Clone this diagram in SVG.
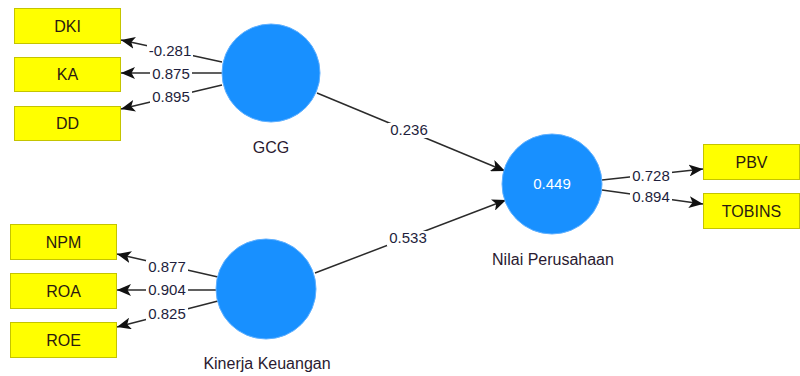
<svg xmlns="http://www.w3.org/2000/svg" width="800" height="376" viewBox="0 0 800 376">
  <style>
    .ind rect { fill: #ffff00; stroke: #c4c400; stroke-width: 1; }
    .ind text { font-family: "Liberation Sans", Arial, sans-serif; font-size: 16px; fill: #2a1a10; text-anchor: middle; }
    .lv circle { fill: #1890ff; stroke: #5fb0ff; stroke-width: 1; }
    .lv text { font-family: "Liberation Sans", Arial, sans-serif; font-size: 16px; fill: #2a1a30; text-anchor: middle; }
    .lv text.r2 { fill: #ffffff; font-size: 15px; }
    .edge line { stroke: #2b2b2b; stroke-width: 1.5; marker-end: url(#arrow); }
    .lbl rect { fill: #ffffff; }
    .lbl text { font-family: "Liberation Sans", Arial, sans-serif; font-size: 15px; fill: #1e1e3c; text-anchor: middle; }
  </style>
  <defs>
    <marker id="arrow" viewBox="0 0 14 12" refX="14" refY="6" markerWidth="14" markerHeight="12" markerUnits="userSpaceOnUse" orient="auto">
      <path d="M0,0 L14,6 L0,12 L3.5,6 z" fill="#111111"/>
    </marker>
  </defs>

  <!-- connectors -->
  <g id="connectors" class="edge">
    <line x1="222" y1="62" x2="121" y2="40"/>
    <line x1="222" y1="73" x2="121" y2="73"/>
    <line x1="222" y1="85" x2="121" y2="109"/>
    <line x1="218" y1="277" x2="117" y2="254"/>
    <line x1="218" y1="290" x2="117" y2="290"/>
    <line x1="218" y1="301" x2="117" y2="327"/>
    <line x1="317" y1="93" x2="505" y2="171"/>
    <line x1="315" y1="273" x2="506" y2="200"/>
    <line x1="602" y1="180" x2="703" y2="169"/>
    <line x1="602" y1="190" x2="703" y2="204"/>
  </g>

  <!-- path coefficients and loadings -->
  <g id="labels" class="lbl">
    <rect x="147" y="43" width="46" height="15"/><text x="170" y="56">-0.281</text>
    <rect x="150" y="66" width="42" height="15"/><text x="171" y="79">0.875</text>
    <rect x="150" y="90" width="42" height="15"/><text x="171" y="102">0.895</text>
    <rect x="146" y="260" width="42" height="15"/><text x="167" y="272">0.877</text>
    <rect x="146" y="283" width="42" height="15"/><text x="167" y="295">0.904</text>
    <rect x="146" y="307" width="42" height="15"/><text x="167" y="319">0.825</text>
    <rect x="388" y="123" width="42" height="15"/><text x="409" y="135">0.236</text>
    <rect x="387" y="231" width="42" height="15"/><text x="408" y="243">0.533</text>
    <rect x="630" y="169" width="42" height="15"/><text x="651" y="181">0.728</text>
    <rect x="630" y="190" width="42" height="15"/><text x="651" y="202">0.894</text>
  </g>

  <!-- indicators -->
  <g id="DKI" class="ind"><rect x="14.5" y="8.5" width="106" height="35"/><text x="67.5" y="31.5">DKI</text></g>
  <g id="KA" class="ind"><rect x="14.5" y="57.5" width="106" height="34"/><text x="67.5" y="80">KA</text></g>
  <g id="DD" class="ind"><rect x="14.5" y="106.5" width="106" height="34"/><text x="67.5" y="129">DD</text></g>
  <g id="NPM" class="ind"><rect x="10.5" y="224.5" width="106" height="35"/><text x="63.5" y="247.5">NPM</text></g>
  <g id="ROA" class="ind"><rect x="10.5" y="273.5" width="106" height="35"/><text x="63.5" y="296.5">ROA</text></g>
  <g id="ROE" class="ind"><rect x="10.5" y="322.5" width="106" height="35"/><text x="63.5" y="345.5">ROE</text></g>
  <g id="PBV" class="ind"><rect x="703.5" y="144.5" width="96" height="35"/><text x="751.5" y="167.5">PBV</text></g>
  <g id="TOBINS" class="ind"><rect x="703.5" y="193.5" width="96" height="35"/><text x="751.5" y="216.5">TOBINS</text></g>

  <!-- latent variables -->
  <g id="GCG" class="lv"><circle cx="271" cy="73" r="49"/><text x="271" y="153">GCG</text></g>
  <g id="KinerjaKeuangan" class="lv"><circle cx="266" cy="289" r="50"/><text x="267" y="369">Kinerja Keuangan</text></g>
  <g id="NilaiPerusahaan" class="lv"><circle cx="552" cy="184" r="50"/><text class="r2" x="552" y="189">0.449</text><text x="553" y="265">Nilai Perusahaan</text></g>
</svg>
